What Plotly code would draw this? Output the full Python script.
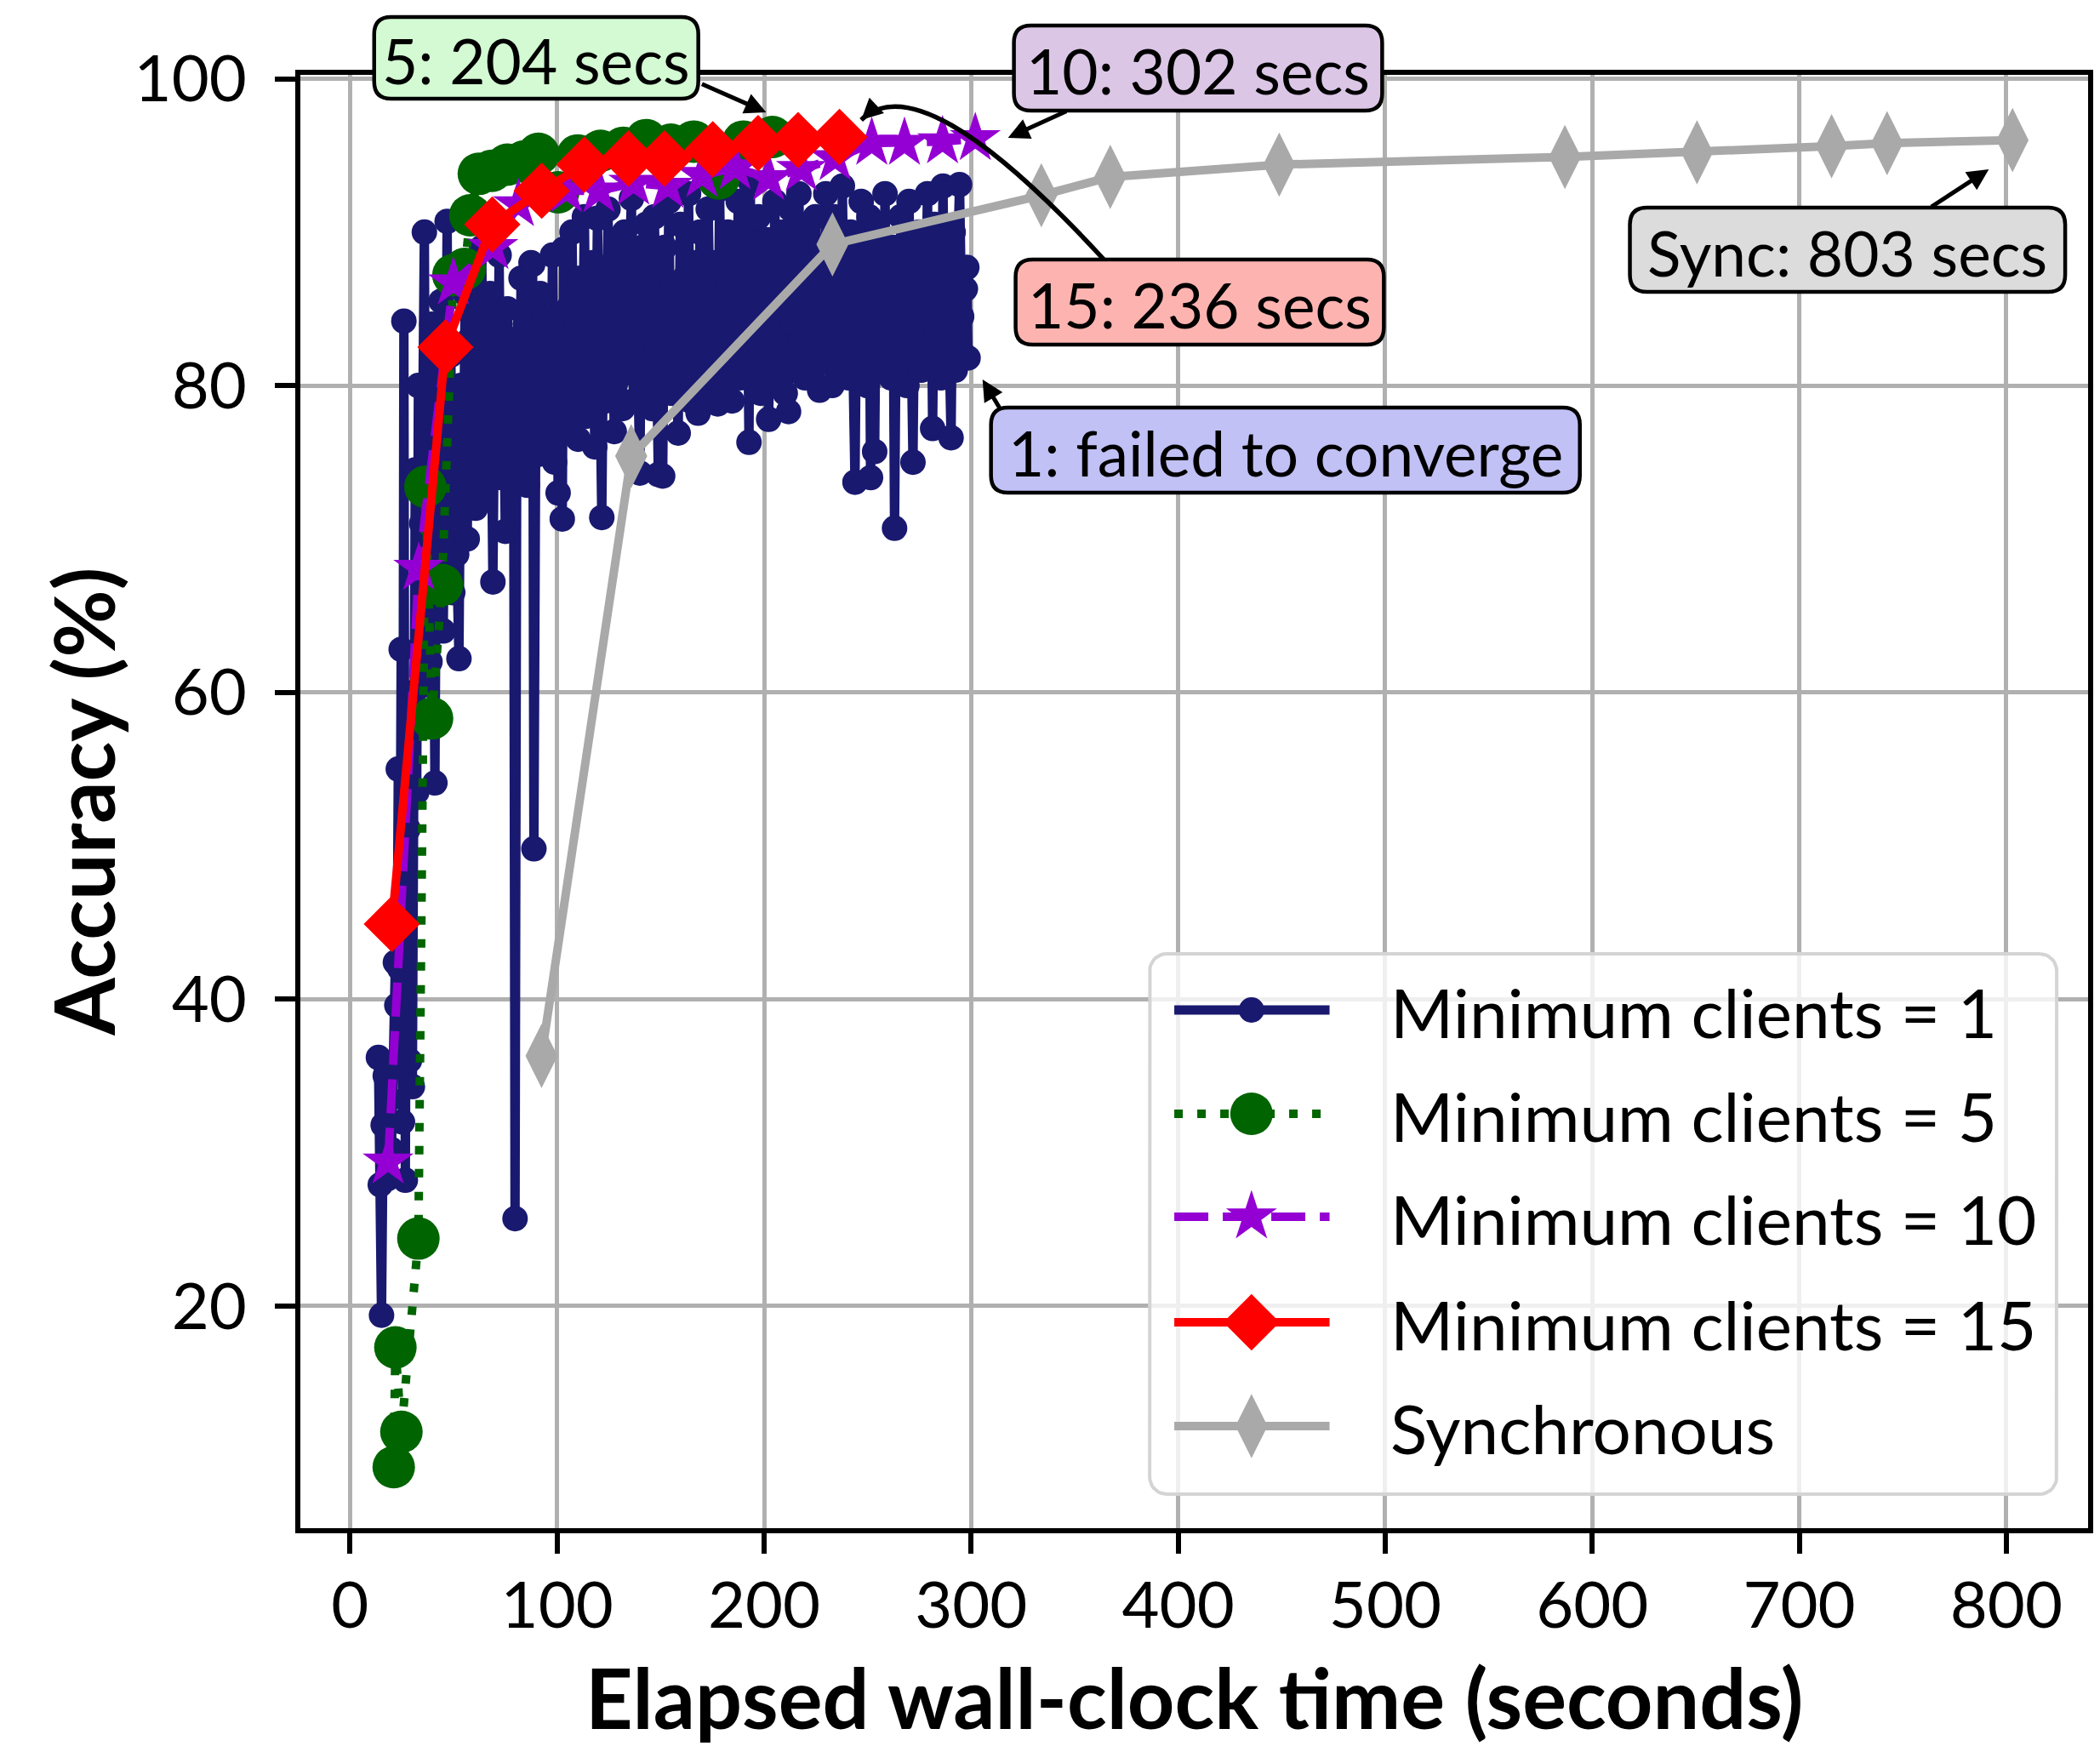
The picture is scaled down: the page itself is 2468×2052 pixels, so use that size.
import numpy as np
import plotly.graph_objects as go

# ---------------- data ----------------
series_names = ["Minimum clients = 1", "Minimum clients = 5", "Minimum clients = 10",
                "Minimum clients = 15", "Synchronous"]

blue_x = [13.7, 14.6, 15.2, 16.0, 17.0, 18.0, 19.0, 20.0, 21.0, 21.9,
          22.6, 23.3, 24.0, 24.7, 25.3, 26.0, 26.7, 27.4, 28.0, 28.7,
          29.4, 30.1, 30.8, 31.5, 32.2, 33.0, 33.8, 34.6, 35.9, 36.8,
          37.7, 38.6, 39.5, 40.4, 41.0, 42.0, 43.0, 44.0, 45.0, 46.0,
          46.9, 47.8, 48.7, 49.6, 50.5, 51.5, 52.6, 53.6, 54.6, 55.6,
          56.6, 57.6, 58.6, 59.6, 60.6, 61.6, 62.6, 63.6, 64.6, 65.6,
          66.6, 67.6, 69.0, 70.0, 71.0, 72.0, 73.0, 74.0, 75.0, 76.0,
          77.0, 78.0, 79.0, 79.7, 80.6, 81.6, 82.6, 83.6, 84.6, 85.6,
          86.6, 87.4, 88.2, 88.8, 89.8, 90.8, 91.8, 92.8, 93.8, 94.8,
          95.8, 96.8, 97.8, 98.8, 99.8, 100.5, 101.8, 102.5, 103.2, 104.2,
          105.2, 106.2, 107.2, 108.2, 109.2, 110.2, 111.2, 112.2, 113.2, 114.2,
          115.2, 116.2, 117.2, 118.2, 119.5, 120.5, 121.6, 122.6, 123.6, 124.6,
          125.6, 126.6, 127.6, 128.6, 129.6, 130.6, 131.6, 132.6, 133.6, 134.6,
          135.9, 136.9, 137.9, 138.9, 140.0, 141.0, 142.0, 143.0, 144.0, 145.0,
          146.0, 147.0, 148.0, 148.9, 150.0, 151.0, 152.0, 153.0, 154.0, 155.0,
          156.0, 157.0, 158.5, 159.5, 160.5, 161.5, 162.5, 163.5, 164.5, 165.5,
          166.5, 168.1, 169.0, 170.0, 171.0, 172.0, 173.0, 174.0, 175.0, 176.0,
          177.6, 178.5, 179.5, 180.5, 181.5, 182.5, 183.5, 184.5, 185.5, 186.5,
          187.5, 188.5, 189.5, 190.5, 191.5, 192.7, 193.3, 194.3, 195.3, 196.3,
          197.3, 198.3, 199.3, 200.3, 201.2, 202.2, 203.2, 204.2, 205.2, 206.2,
          207.2, 208.2, 209.2, 210.2, 211.8, 212.8, 213.8, 214.8, 215.8, 216.8,
          217.8, 218.8, 219.8, 220.8, 221.8, 222.8, 223.8, 224.8, 225.8, 226.8,
          227.8, 228.8, 229.8, 230.8, 231.8, 232.8, 233.8, 234.8, 235.8, 236.8,
          237.8, 238.8, 239.8, 240.8, 241.8, 242.8, 243.9, 244.9, 245.9, 246.9,
          247.9, 248.9, 249.9, 250.7, 251.4, 252.4, 253.4, 254.4, 255.4, 256.4,
          257.4, 258.4, 259.4, 260.4, 261.4, 262.2, 263.0, 264.0, 265.0, 266.0,
          267.0, 268.0, 269.0, 270.0, 271.0, 271.9, 272.9, 273.9, 274.9, 275.9,
          276.9, 277.9, 278.9, 279.9, 280.6, 281.4, 282.4, 283.4, 284.4, 285.4,
          286.4, 287.4, 288.4, 289.4, 290.3, 291.3, 292.3, 293.3, 294.4, 295.4,
          296.5, 297.2, 297.9, 298.5]
blue_y = [36.2, 27.9, 19.4, 31.8, 35.0, 28.3, 33.5, 30.2, 35.8, 42.4,
          39.6, 55.0, 42.0, 62.8, 32.0, 84.2, 28.2, 55.1, 51.1, 36.0,
          53.0, 34.3, 60.0, 74.5, 53.5, 80.0, 58.0, 71.0, 90.0, 60.5,
          78.0, 62.0, 84.0, 65.5, 54.1, 79.0, 68.0, 85.5, 64.0, 76.0,
          90.7, 70.0, 82.0, 66.5, 78.5, 69.0, 62.2, 80.0, 72.0, 86.0,
          70.0, 83.0, 74.5, 88.0, 72.0, 81.5, 76.0, 89.0, 73.0, 84.5,
          77.5, 86.0, 67.2, 82.0, 75.0, 88.5, 74.0, 80.5, 70.5, 85.0,
          76.5, 83.0, 78.5, 25.7, 81.0, 74.0, 87.0, 77.5, 84.0, 73.5,
          81.0, 88.0, 87.9, 49.8, 80.0, 75.5, 86.0, 79.0, 84.5, 76.0,
          82.5, 78.0, 88.5, 75.0, 84.0, 73.0, 83.0, 71.3, 88.9, 79.5,
          85.0, 77.0, 90.0, 80.5, 84.0, 76.5, 87.0, 81.0, 91.0, 78.0,
          85.5, 80.0, 88.0, 76.0, 90.9, 82.0, 71.4, 86.5, 79.0, 91.5,
          81.0, 87.0, 77.0, 89.5, 80.5, 85.0, 78.5, 90.0, 82.0, 86.5,
          92.2, 79.0, 87.5, 81.5, 74.3, 89.0, 83.0, 90.5, 80.0, 86.0,
          78.5, 91.0, 82.5, 74.2, 87.5, 74.1, 89.0, 81.0, 92.0, 79.5,
          86.5, 83.5, 76.9, 90.5, 80.0, 87.0, 82.5, 92.5, 79.0, 88.0,
          84.0, 78.2, 90.0, 81.0, 86.5, 79.5, 91.5, 83.0, 88.0, 80.5,
          78.8, 92.8, 82.0, 87.5, 80.0, 90.0, 84.5, 79.0, 88.5, 82.0,
          92.0, 80.5, 86.0, 83.5, 90.5, 76.3, 93.3, 81.0, 88.0, 83.0,
          91.0, 79.5, 86.5, 82.0, 89.5, 77.8, 87.0, 83.5, 92.0, 80.0,
          88.5, 82.5, 90.0, 79.5, 78.3, 91.5, 84.0, 88.0, 81.0, 92.5,
          83.0, 87.0, 80.5, 90.5, 82.0, 88.5, 81.5, 91.0, 84.5, 79.7,
          89.0, 83.0, 92.5, 81.5, 87.5, 80.0, 91.0, 84.0, 88.0, 81.0,
          93.0, 82.5, 87.0, 80.5, 90.0, 83.5, 73.7, 89.5, 81.0, 92.0,
          84.0, 87.5, 80.0, 91.0, 74.0, 88.0, 75.7, 90.5, 82.0, 86.5,
          81.0, 92.5, 83.0, 88.0, 80.5, 89.0, 70.7, 87.5, 81.5, 91.0,
          84.0, 86.0, 80.0, 92.0, 83.0, 75.0, 88.5, 82.5, 90.0, 81.0,
          87.0, 84.5, 92.5, 82.0, 88.0, 77.2, 90.5, 83.5, 86.5, 80.5,
          93.0, 82.0, 89.0, 84.0, 76.6, 90.0, 81.0, 87.5, 93.1, 84.5,
          82.0, 86.3, 87.7, 81.8]

green_x = [21.1, 21.9, 24.8, 33.0, 36.4, 39.6, 44.4, 49.9, 55.4, 58.1,
           62.2, 68.5, 76.0, 84.0, 91.0, 100.5, 110.0, 121.0, 132.0, 143.0,
           155.0, 166.0, 178.0, 190.0, 204.0]
green_y = [9.5, 17.3, 11.8, 24.4, 73.4, 58.3, 67.0, 87.2, 87.6, 91.1,
           93.8, 94.0, 94.4, 94.6, 95.1, 92.6, 95.0, 95.3, 95.5, 96.0,
           95.7, 95.9, 93.5, 95.9, 96.2]

purple_x = [18.4, 33.2, 49.9, 69.0, 81.3, 104.5, 120.2, 137.0, 153.5, 170.0,
            186.0, 202.2, 218.0, 234.3, 252.0, 267.8, 286.2, 302.0]
purple_y = [29.4, 68.1, 86.7, 89.0, 91.8, 92.7, 92.7, 93.2, 93.0, 93.7,
            94.2, 93.5, 94.1, 94.8, 95.8, 95.8, 95.9, 96.1]

red_x = [20.2, 46.1, 68.7, 92.6, 113.2, 134.5, 151.9, 175.2, 197.1, 216.4, 236.4]
red_y = [44.9, 82.5, 90.5, 92.7, 94.4, 94.8, 94.8, 95.4, 95.8, 96.0, 96.2]

sync_x = [92.5, 135.8, 233.0, 333.9, 367.2, 448.8, 586.8, 650.6, 715.6, 742.4, 803.0]
sync_y = [36.3, 75.4, 89.2, 92.4, 93.6, 94.4, 94.9, 95.2, 95.6, 95.8, 96.0]

x_ticks = [0, 100, 200, 300, 400, 500, 600, 700, 800]
y_ticks = [20, 40, 60, 80, 100]

callout_texts = ["5: 204 secs", "10: 302 secs", "15: 236 secs", "Sync: 803 secs",
                 "1: failed to converge"]

# ---------------- styles & layout constants (figure pixels) ----------------
FONT = "Lato"
FIG_W, FIG_H = 2468, 2052
PL, PR, PT, PB = 353, 2460, 88, 1796
X_RANGE = [-24.0, 839.5]
Y_RANGE = [5.52, 100.25]


def px_x(px):
    return (px - PL) / (PR - PL)


def px_y(py):
    return (PB - py) / (PB - PT)


styles = [
    dict(line=dict(color="#191970", width=11),
         marker=dict(symbol="circle", size=30, color="#191970")),
    dict(line=dict(color="#006400", width=10, dash="10px,17px"),
         marker=dict(symbol="circle", size=50, color="#006400")),
    dict(line=dict(color="#9400D3", width=10, dash="40px,17px"),
         marker=dict(symbol="star", size=45, color="#9400D3")),
    dict(line=dict(color="#FF0000", width=10),
         marker=dict(symbol="diamond", size=51, color="#FF0000")),
    dict(line=dict(color="#A9A9A9", width=10),
         marker=dict(symbol="diamond-tall", size=54, color="#A9A9A9")),
]
series = [(blue_x, blue_y), (green_x, green_y), (purple_x, purple_y),
          (red_x, red_y), (sync_x, sync_y)]

fig = go.Figure()
for (xs, ys), st, nm in zip(series, styles, series_names):
    fig.add_trace(go.Scatter(x=xs, y=ys, mode="lines+markers", name=nm,
                             line=st["line"], marker=st["marker"],
                             showlegend=False, hoverinfo="skip"))

# ---------------- custom legend on an overlay pixel axis ----------------
LEG_BOX = (1354, 1121, 2423, 1756, 20)
LEG_ROWS = [1187, 1309, 1430, 1554, 1676]
LEG_LINE = (1383, 1566)
LEG_MARK_X = 1474
LEG_TEXT_X = 1636


def rounded_pts(x0, y0, x1, y1, r, n=10):
    xs, ys = [], []
    for cx, cy, a0 in [(x1 - r, y0 + r, -90), (x1 - r, y1 - r, 0),
                       (x0 + r, y1 - r, 90), (x0 + r, y0 + r, 180)]:
        for a in np.linspace(a0, a0 + 90, n):
            xs.append(cx + r * np.cos(np.radians(a)))
            ys.append(cy + r * np.sin(np.radians(a)))
    xs.append(xs[0])
    ys.append(ys[0])
    return xs, ys


bx, by = rounded_pts(*LEG_BOX)
fig.add_trace(go.Scatter(x=bx, y=by, xaxis="x2", yaxis="y2", mode="lines",
                         fill="toself", fillcolor="rgba(255,255,255,0.8)",
                         line=dict(color="#d4d4d4", width=4),
                         showlegend=False, hoverinfo="skip"))
for row, st in zip(LEG_ROWS, styles):
    fig.add_trace(go.Scatter(x=[LEG_LINE[0], LEG_LINE[1]], y=[row, row],
                             xaxis="x2", yaxis="y2", mode="lines", line=st["line"],
                             showlegend=False, hoverinfo="skip"))
    fig.add_trace(go.Scatter(x=[LEG_MARK_X], y=[row], xaxis="x2", yaxis="y2",
                             mode="markers", marker=st["marker"],
                             showlegend=False, hoverinfo="skip"))

annotations = []
for row, nm in zip(LEG_ROWS, series_names):
    annotations.append(dict(text=nm, xref="x2", yref="y2", x=LEG_TEXT_X, y=row + 2,
                            xanchor="left", yanchor="middle", showarrow=False,
                            font=dict(family=FONT, size=80, color="black")))

# ---------------- callout boxes ----------------
boxes = [  # x0, y0, x1, y1 (px), fill colour
    (440, 20, 822, 116, "#d3fad3"),
    (1194, 30, 1628, 130, "#dcc6e6"),
    (1196, 305, 1630, 405, "#fdb4b0"),
    (1920, 244, 2433, 343, "#dcdcdc"),
    (1167, 479, 1861, 579, "#c1c1f5"),
]
arrows = [  # tail px, tip px
    ((825, 98), (902, 132)),
    ((1257, 130), (1187, 162)),
    None,
    ((2274, 244), (2343, 199)),
    ((1178, 481), (1157, 446)),
]


def rrect_path(x0, y0, x1, y1, r):
    def P(px, py):
        return f"{px_x(px):.5f},{px_y(py):.5f}"
    return (f"M{P(x0 + r, y0)} L{P(x1 - r, y0)} Q{P(x1, y0)} {P(x1, y0 + r)} "
            f"L{P(x1, y1 - r)} Q{P(x1, y1)} {P(x1 - r, y1)} L{P(x0 + r, y1)} "
            f"Q{P(x0, y1)} {P(x0, y1 - r)} L{P(x0, y0 + r)} Q{P(x0, y0)} {P(x0 + r, y0)} Z")


shapes = []
for (x0, y0, x1, y1, col), txt in zip(boxes, callout_texts):
    shapes.append(dict(type="path", path=rrect_path(x0, y0, x1, y1, 20),
                       xref="paper", yref="paper", fillcolor=col,
                       line=dict(color="black", width=4.5), layer="above"))
    annotations.append(dict(text=txt, xref="paper", yref="paper",
                            x=px_x((x0 + x1) / 2), y=px_y((y0 + y1) / 2 + 3),
                            xanchor="center", yanchor="middle", showarrow=False,
                            font=dict(family=FONT, size=73, color="black")))

for arr in arrows:
    if arr is None:
        continue
    (tx, ty), (hx, hy) = arr
    annotations.append(dict(text="", xref="paper", yref="paper",
                            x=px_x(hx), y=px_y(hy), ax=tx - hx, ay=ty - hy,
                            showarrow=True, arrowhead=2, arrowsize=1,
                            arrowwidth=5, arrowcolor="black"))

# curved arrow for "15: 236 secs"
S, C, E = (1300, 305), (1085, 72), (1014, 141)
curve = (f"M{px_x(S[0]):.5f},{px_y(S[1]):.5f} Q{px_x(C[0]):.5f},{px_y(C[1]):.5f} "
         f"{px_x(E[0]):.5f},{px_y(E[1]):.5f}")
shapes.append(dict(type="path", path=curve, xref="paper", yref="paper",
                   line=dict(color="black", width=5.5), layer="above"))
annotations.append(dict(text="", xref="paper", yref="paper",
                        x=px_x(E[0]), y=px_y(E[1]), ax=18, ay=-17,
                        showarrow=True, arrowhead=2, arrowsize=1,
                        arrowwidth=5, arrowcolor="black"))

# axis titles
annotations.append(dict(text="<b>Elapsed wall-clock time (seconds)</b>",
                        xref="paper", yref="paper", x=px_x(1406), y=px_y(1994),
                        xanchor="center", yanchor="middle", showarrow=False,
                        font=dict(family=FONT, size=97, color="black")))
annotations.append(dict(text="<b>Accuracy (%)</b>", textangle=-90,
                        xref="paper", yref="paper", x=px_x(96), y=px_y(942),
                        xanchor="center", yanchor="middle", showarrow=False,
                        font=dict(family=FONT, size=97, color="black")))

axis_common = dict(ticks="outside", ticklen=24, tickwidth=6, tickcolor="black",
                   showline=True, linewidth=6, linecolor="black", mirror=True,
                   showgrid=True, gridcolor="#b0b0b0", gridwidth=5, zeroline=False,
                   tickfont=dict(family=FONT, size=76, color="black"))

fig.update_layout(
    width=FIG_W, height=FIG_H,
    margin=dict(l=PL, r=FIG_W - PR, t=PT, b=FIG_H - PB, pad=0),
    paper_bgcolor="white", plot_bgcolor="white",
    showlegend=False,
    font=dict(family=FONT, color="black"),
    xaxis=dict(range=X_RANGE, tickvals=x_ticks, **axis_common),
    yaxis=dict(range=Y_RANGE, tickvals=y_ticks, ticklabelstandoff=18, **axis_common),
    xaxis2=dict(overlaying="x", range=[PL, PR], visible=False, anchor="y2"),
    yaxis2=dict(overlaying="y", range=[PB, PT], visible=False, anchor="x2"),
    shapes=shapes,
    annotations=annotations,
)
try:
    fig.update_xaxes(selector=dict(overlaying=None), ticklabelstandoff=-4)
    fig.layout.xaxis.ticklabelstandoff = -4
except ValueError:
    fig.layout.xaxis.ticklabelstandoff = 0

fig.write_html("out.html", config={"displayModeBar": False})
